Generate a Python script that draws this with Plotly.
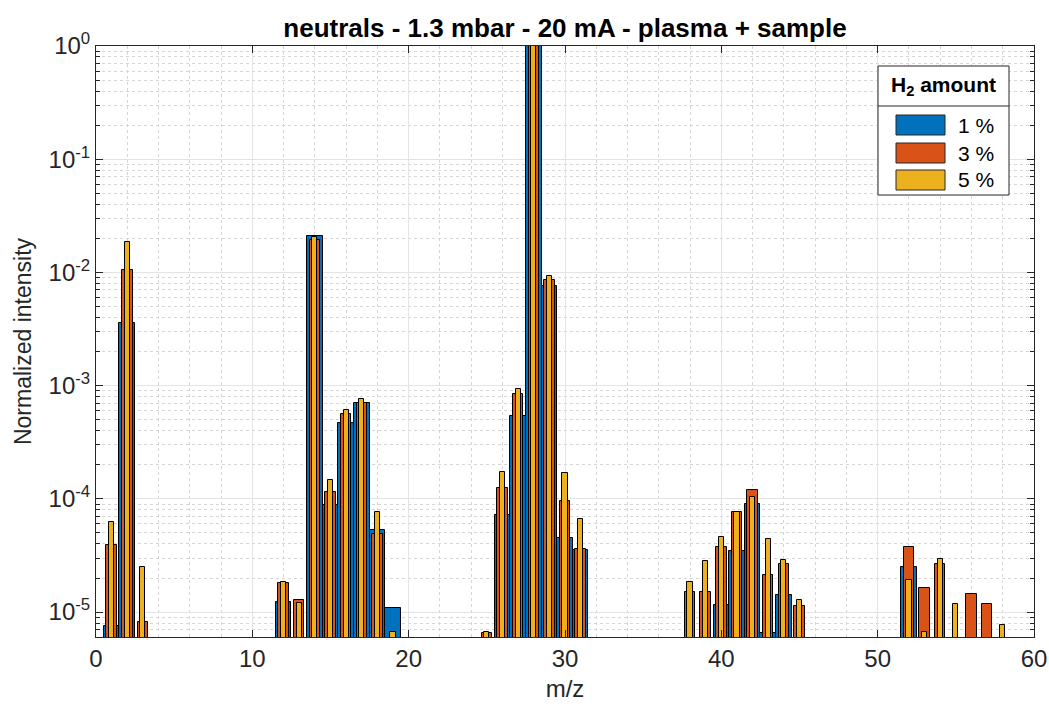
import plotly.graph_objects as go

# ---- data ----
mz_1pct = [1, 2, 12, 14, 15, 16, 17, 18, 19, 26, 27, 28, 29, 30, 31, 40, 41, 42, 43, 44, 52]
val_1pct = [7.6e-6, 3.55e-3, 1.22e-5, 2.1e-2, 8.9e-5, 4.68e-4, 7.0e-4, 5.27e-5, 1.09e-5,
            7.2e-5, 5.42e-4, 1.0, 7.6e-3, 4.52e-5, 3.5e-5, 1.16e-5, 3.49e-5, 9.07e-5,
            6.6e-6, 1.42e-5, 2.5e-5]

mz_3pct = [1, 2, 3, 12, 13, 14, 15, 16, 17, 18, 25, 26, 27, 28, 29, 30, 31, 38, 39, 40,
           41, 42, 43, 44, 45, 52, 53, 54, 56, 57]
val_3pct = [3.9e-5, 1.05e-2, 8.2e-6, 1.81e-5, 1.29e-5, 1.94e-2, 1.16e-4, 5.65e-4, 7.0e-4,
            4.93e-5, 6.5e-6, 1.25e-4, 8.5e-4, 1.0, 8.6e-3, 9.6e-5, 3.63e-5, 1.51e-5,
            1.51e-5, 3.76e-5, 7.7e-5, 1.19e-4, 2.11e-5, 2.66e-5, 1.14e-5, 3.73e-5,
            1.62e-5, 2.68e-5, 1.45e-5, 1.19e-5]

mz_5pct = [1, 2, 3, 12, 13, 14, 15, 16, 17, 18, 19, 25, 26, 27, 28, 29, 30, 31, 38, 39,
           40, 41, 42, 43, 44, 45, 52, 53, 54, 55, 58]
val_5pct = [6.2e-5, 1.87e-2, 2.5e-5, 1.85e-5, 1.2e-5, 2.05e-2, 1.48e-4, 6.04e-4, 7.6e-4,
            7.6e-5, 6.7e-6, 6.7e-6, 1.73e-4, 9.4e-4, 1.0, 9.3e-3, 1.69e-4, 6.7e-5,
            1.83e-5, 2.85e-5, 4.64e-5, 7.7e-5, 1.04e-4, 4.4e-5, 2.88e-5, 1.29e-5,
            1.91e-5, 6.7e-6, 2.95e-5, 1.19e-5, 7.7e-6]

series_names = ["1 %", "3 %", "5 %"]
title_text = "neutrals - 1.3 mbar - 20 mA - plasma + sample"
x_label = "m/z"
y_label = "Normalized intensity"
legend_title = "H<sub>2</sub> amount"
x_ticks = [0, 10, 20, 30, 40, 50, 60]
y_ticks = [1e-5, 1e-4, 1e-3, 1e-2, 1e-1, 1]
y_ticktext = ["10<sup>-5</sup>", "10<sup>-4</sup>", "10<sup>-3</sup>",
              "10<sup>-2</sup>", "10<sup>-1</sup>", "10<sup>0</sup>"]

# ---- styling ----
colors = ["#0072BD", "#D95319", "#EDB120"]
widths = [1.0, 0.67, 0.33]
FONT = "Liberation Sans, Arial, Helvetica, sans-serif"
AX = "#262626"
W, H = 1049, 709
L, R, T, B = 96, 1034, 46, 637  # plot area in pixels


def px_x(p):
    return (p - L) / (R - L)


def px_y(p):
    return 1 - (p - T) / (B - T)


fig = go.Figure()
for xs, ys, name, c, w in zip([mz_1pct, mz_3pct, mz_5pct],
                              [val_1pct, val_3pct, val_5pct],
                              series_names, colors, widths):
    fig.add_trace(go.Bar(x=xs, y=ys, name=name, width=w, showlegend=False,
                         marker=dict(color=c, line=dict(color="black", width=1)),
                         opacity=1))

# ---- legend (boxed, MATLAB style) ----
shapes = []
annotations = []
lx0, lx1, ly0, ly1 = 878, 1009, 66, 195
shapes.append(dict(type="rect", xref="paper", yref="paper",
                   x0=px_x(lx0), x1=px_x(lx1), y0=px_y(ly1), y1=px_y(ly0),
                   line=dict(color=AX, width=1), fillcolor="white", layer="above"))
shapes.append(dict(type="line", xref="paper", yref="paper",
                   x0=px_x(lx0), x1=px_x(lx1), y0=px_y(106), y1=px_y(106),
                   line=dict(color=AX, width=1), layer="above"))
annotations.append(dict(text="<b>" + legend_title + "</b>", xref="paper", yref="paper",
                        x=px_x((lx0 + lx1) / 2), y=px_y(86), xanchor="center",
                        yanchor="middle", showarrow=False,
                        font=dict(size=21, color="black", family=FONT)))
row_y = [125, 153, 180]
for name, c, yy in zip(series_names, colors, row_y):
    shapes.append(dict(type="rect", xref="paper", yref="paper",
                       x0=px_x(896), x1=px_x(945), y0=px_y(yy + 10), y1=px_y(yy - 10),
                       line=dict(color=AX, width=1), fillcolor=c, layer="above"))
    annotations.append(dict(text=name, xref="paper", yref="paper",
                            x=px_x(956), y=px_y(yy), xanchor="left", yanchor="middle",
                            showarrow=False, font=dict(size=21, color="black", family=FONT)))

fig.update_layout(
    width=W, height=H,
    margin=dict(l=L, r=W - R, t=T, b=H - B, autoexpand=False),
    plot_bgcolor="white", paper_bgcolor="white",
    barmode="overlay", bargap=0,
    font=dict(family=FONT, color=AX, size=20),
    title=dict(text="<b>" + title_text + "</b>", x=px_x(565), xref="paper", xanchor="center",
               y=1 - 28 / H, yref="container", yanchor="middle",
               font=dict(size=26, color="black", family=FONT)),
    shapes=shapes,
    annotations=annotations,
)

fig.update_xaxes(
    range=[0, 60], tickmode="array", tickvals=x_ticks, automargin=False,
    showline=True, linecolor=AX, linewidth=1, mirror="allticks",
    ticks="inside", ticklen=7, tickcolor=AX,
    showgrid=True, gridcolor="#e3e3e3", gridwidth=1,
    minor=dict(dtick=2, tick0=0, ticks="", showgrid=True, gridcolor="#d6d6d6", griddash="dot"),
    tickfont=dict(size=24, color=AX),
    title=dict(text=x_label, font=dict(size=24, color=AX), standoff=9),
    zeroline=False,
)

fig.update_yaxes(
    type="log", range=[-5.22, 0], tickmode="array", tickvals=y_ticks, ticktext=y_ticktext,
    automargin=False,
    showline=True, linecolor=AX, linewidth=1, mirror="allticks",
    ticks="inside", ticklen=7, tickcolor=AX,
    showgrid=True, gridcolor="#e3e3e3", gridwidth=1,
    minor=dict(dtick="D1", ticks="inside", ticklen=4, tickcolor=AX,
               showgrid=True, gridcolor="#d6d6d6", griddash="dot"),
    tickfont=dict(size=24, color=AX),
    title=dict(text=y_label, font=dict(size=23, color=AX), standoff=10),
    zeroline=False,
)

fig.write_html("out.html",
               config={"displayModeBar": False},
               post_script="document.body.style.margin='0px';document.body.style.overflow='hidden';")
